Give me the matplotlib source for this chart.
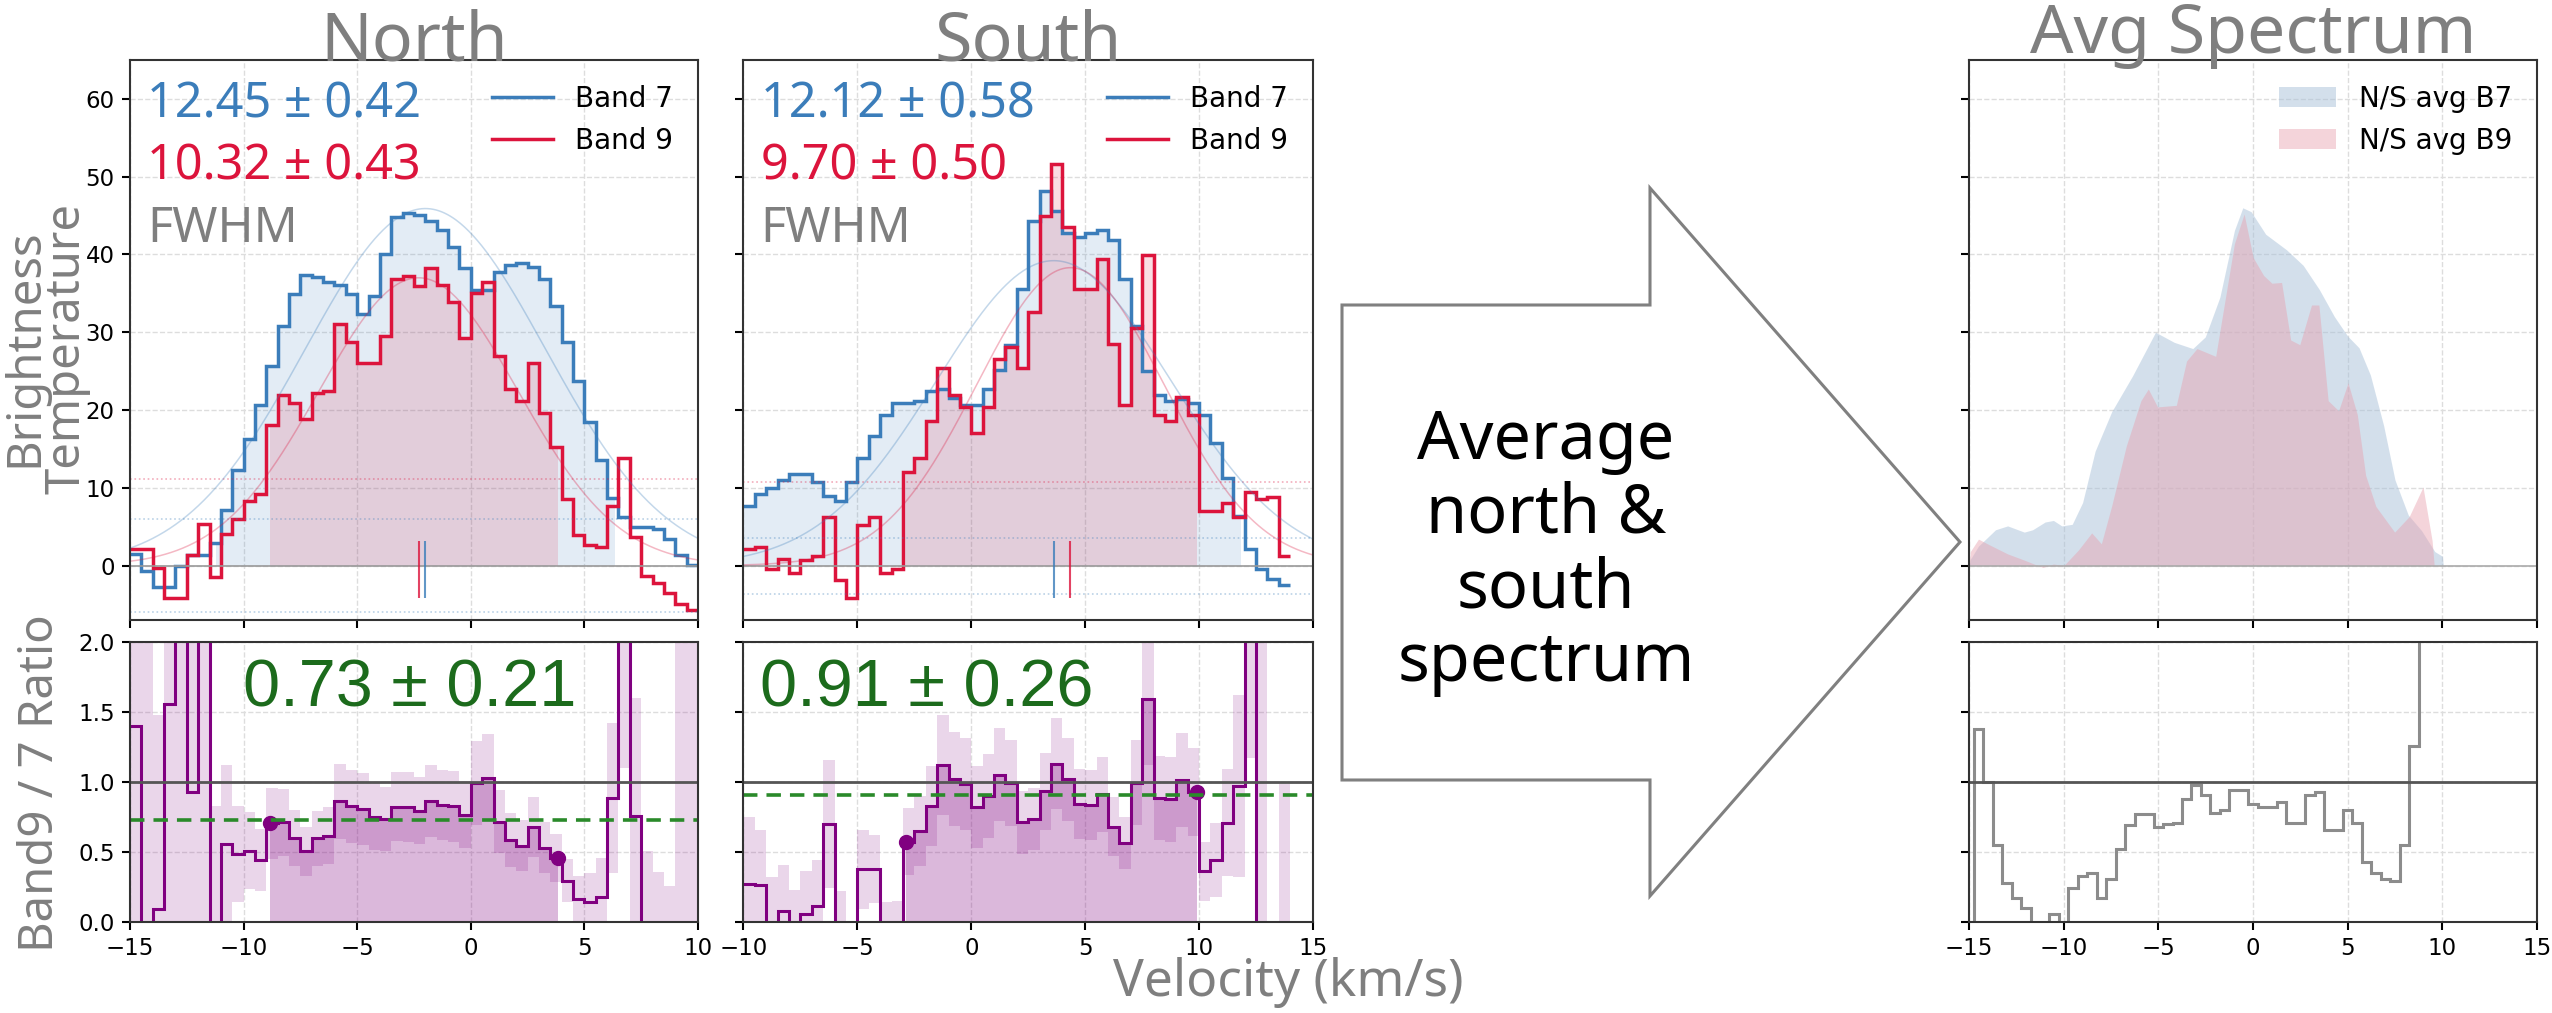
import numpy as np
import matplotlib
matplotlib.use('Agg')
import matplotlib.pyplot as plt
from matplotlib.lines import Line2D
from matplotlib.patches import Patch, Polygon

# brightness temperature spectra (K) on 0.5 km/s channels
chan = 0.5
north_v0 = -15.0
south_v0 = -10.0

north_b7 = [1.5, -0.7, -2.7, -2.7, -0.1, 1.4, 1.4, 2.9, 7.2, 12.3,
            16.3, 20.7, 25.7, 30.8, 34.9, 37.4, 37.1, 36.4, 36.1, 34.9,
            32.3, 34.6, 40.0, 44.8, 45.3, 45.1, 44.3, 43.2, 41.0, 38.2,
            35.4, 35.4, 37.7, 38.7, 38.9, 38.4, 36.9, 33.4, 28.8, 23.7,
            18.4, 13.6, 8.7, 6.2, 4.9, 4.9, 4.7, 3.4, 1.4, 0.1]
north_b9 = [2.1, 2.1, -0.25, -4.2, -4.2, 1.3, 5.4, -1.5, 4.0, 6.0,
            8.3, 9.2, 18.1, 21.9, 20.9, 18.9, 22.2, 22.4, 31.1, 28.8,
            26.0, 26.0, 29.5, 36.9, 37.2, 35.9, 38.2, 36.1, 33.9, 29.3,
            35.1, 36.5, 27.0, 22.7, 21.2, 26.0, 19.6, 15.3, 8.5, 3.9,
            2.6, 2.4, 7.7, 13.8, 3.7, -1.3, -2.2, -3.5, -5.0, -5.7]

south_b7 = [7.7, 9.2, 10.0, 11.0, 11.8, 11.8, 10.8, 9.0, 8.3, 10.8,
            13.8, 16.6, 19.4, 20.9, 20.9, 21.2, 22.4, 22.7, 21.5, 20.7,
            20.7, 22.7, 25.2, 28.3, 35.6, 44.3, 48.1, 45.6, 42.7, 42.2,
            42.7, 43.2, 41.9, 36.9, 30.8, 25.0, 21.9, 21.2, 21.4, 20.9,
            19.4, 15.8, 11.3, 6.4, 2.1, -0.4, -1.7, -2.5]
south_b9 = [2.1, 2.4, -0.4, 0.9, -0.9, 0.7, 1.2, 6.3, -1.8, -4.2,
            5.2, 6.3, -0.9, -0.4, 12.0, 13.8, 18.6, 25.4, 21.9, 20.4,
            17.0, 20.4, 26.5, 28.1, 25.4, 32.6, 44.9, 51.6, 43.5, 35.6,
            35.6, 39.4, 28.5, 20.7, 30.6, 39.9, 19.4, 18.6, 21.7, 19.4,
            7.0, 7.0, 8.0, 6.2, 9.5, 8.5, 8.8, 1.2]

# gaussian fits: centre, peak, FWHM, FWHM error
north_fit7 = (-2.0, 45.9, 12.45, 0.42)
north_fit9 = (-2.3, 37.0, 10.32, 0.43)
south_fit7 = (3.62, 39.2, 12.12, 0.58)
south_fit9 = (4.35, 38.3, 9.70, 0.50)

# integration windows
north_win7 = (-11.2, 6.35)
north_win9 = (-8.84, 3.83)
south_win7 = (-10.0, 11.86)
south_win9 = (-2.86, 9.9)

# 1-sigma channel noise (dotted lines sit at 3 sigma) and flux calibration error
north_rms7, north_rms9 = 2.0, 3.73
south_rms7, south_rms9 = 1.2, 3.6
calib = 0.28

# mean band9/band7 ratio in the window
north_ratio = (0.73, 0.21)
south_ratio = (0.91, 0.26)

# north/south averaged spectra
avg7_v = [-15.0, -14.93, -14.5, -13.6, -12.96, -12.08, -11.64, -10.98, -10.54,
          -10.1, -9.55, -9.0, -8.34, -7.46, -6.36, -5.15, -4.16, -3.18, -2.52,
          -1.75, -0.98, -0.54, -0.1, 0.67, 1.77, 2.65, 3.5, 4.3, 5.0, 5.6, 6.2,
          6.9, 7.5, 8.2, 8.9, 9.6, 10.0, 10.05]
avg7_t = [0.0, 0.8, 2.5, 4.6, 5.1, 4.3, 4.6, 5.6, 5.8,
          5.1, 5.3, 8.1, 14.7, 19.8, 24.4, 30.0, 28.7, 27.9, 29.4,
          34.5, 43.1, 46.0, 45.5, 42.6, 40.6, 38.6, 35.5, 32.0, 29.5, 28.0, 24.5,
          18.0, 11.0, 6.5, 4.5, 1.8, 1.2, 0.0]
avg9_v = [-15.0, -14.93, -14.5, -13.95, -12.96, -12.08, -11.1, -10.54, -9.99,
          -9.22, -8.52, -8.01, -7.46, -6.69, -5.92, -5.53, -5.04, -4.05, -3.51,
          -2.96, -1.97, -0.98, -0.47, 0.01, 0.56, 1.0, 1.51, 1.99, 2.47, 3.09,
          3.48, 3.97, 4.52, 5.02, 5.51, 5.95, 6.49, 7.48, 8.25, 8.98, 9.46, 9.57]
avg9_t = [0.0, 1.8, 3.4, 2.7, 1.5, 0.7, -0.25, 0.2, 0.0,
          2.0, 4.2, 2.8, 7.7, 15.4, 21.2, 22.7, 20.4, 20.6, 26.3,
          27.9, 26.9, 41.4, 45.2, 39.6, 37.3, 36.3, 36.4, 29.0, 28.4, 33.5,
          33.5, 21.2, 19.9, 23.5, 19.4, 11.6, 7.6, 4.3, 6.3, 10.1, 3.2, 0.0]

avg_ratio_v0 = -15.25
avg_ratio = [-1.0, 1.38, 1.0, 0.55, 0.28, 0.17, 0.10, -0.2, -0.2, 0.06, -0.1,
             0.24, 0.33, 0.35, 0.17, 0.31, 0.52, 0.69, 0.77, 0.77, 0.68,
             0.70, 0.71, 0.88, 0.98, 0.91, 0.78, 0.80, 0.94, 0.94, 0.84,
             0.82, 0.82, 0.86, 0.71, 0.71, 0.91, 0.93, 0.66, 0.66, 0.80,
             0.71, 0.43, 0.35, 0.31, 0.29, 0.55, 1.26, 5.0]

gray = '#7f7f7f'
c7 = '#3b7dba'
c9 = '#dc143c'
purple = '#800080'
W, H = 2552, 1013

plt.rcParams['axes.linewidth'] = 1.5
plt.rcParams['axes.edgecolor'] = '#333333'

fig = plt.figure(figsize=(W / 100, H / 100), dpi=100)


def rect(x0, x1, y0, y1):
    return [x0 / W, 1 - y1 / H, (x1 - x0) / W, (y1 - y0) / H]


def gauss(v, mu, peak, fwhm, err):
    return peak * np.exp(-4 * np.log(2) * (v - mu) ** 2 / fwhm ** 2)


def fill_steps(ax, edges, lower, upper, lo, hi, **kw):
    e = np.clip(edges, lo, hi)
    xs = np.repeat(e, 2)[1:-1]
    upper = np.asarray(upper, float)
    lower = np.broadcast_to(lower, upper.shape)
    ax.fill_between(xs, np.repeat(lower, 2), np.repeat(upper, 2), lw=0, **kw)


def style(ax, xlim, ylim, yticks, ylabels=True, xlabels=True):
    ax.set_xlim(*xlim)
    ax.set_ylim(*ylim)
    ax.set_xticks(np.arange(xlim[0], xlim[1] + 1, 5))
    ax.set_yticks(yticks)
    ax.grid(True, ls='--', color='#dddddd', lw=1.0)
    ax.set_axisbelow(True)
    ax.tick_params(direction='out', length=6, width=1.5, labelsize=16.5, pad=5,
                   labelleft=ylabels, labelbottom=xlabels)


def spectrum(ax, v0, b7, b9, fit7, fit9, win7, win9, rms7, rms9, xlim, show_y):
    b7 = np.asarray(b7)
    b9 = np.asarray(b9)
    edges = v0 + chan * np.arange(len(b7) + 1)
    style(ax, xlim, (-7, 65), np.arange(0, 61, 10), ylabels=show_y, xlabels=False)
    ax.axhline(0, color='#999999', lw=1.2)
    for lvl, c in ((3 * rms7, c7), (3 * rms9, c9)):
        ax.axhline(lvl, color=c, ls=':', lw=1.2, alpha=0.35)
        ax.axhline(-lvl, color=c, ls=':', lw=1.2, alpha=0.35)
    fill_steps(ax, edges, 0, b7, *win7, color=c7, alpha=0.14)
    fill_steps(ax, edges, 0, b9, *win9, color=c9, alpha=0.14)
    vv = np.linspace(xlim[0], xlim[1], 400)
    ax.plot(vv, gauss(vv, *fit7), color=c7, lw=1.1, alpha=0.3)
    ax.plot(vv, gauss(vv, *fit9), color=c9, lw=1.1, alpha=0.3)
    ax.stairs(b7, edges, baseline=None, color=c7, lw=2.5)
    ax.stairs(b9, edges, baseline=None, color=c9, lw=2.5)
    ax.vlines(fit7[0], -4.2, 3.1, color=c7, lw=1.5, alpha=0.8)
    ax.vlines(fit9[0], -4.2, 3.1, color=c9, lw=1.5, alpha=0.8)

    handles = [Line2D([], [], color=c7, lw=2.5), Line2D([], [], color=c9, lw=2.5)]
    ax.legend(handles, ['Band 7', 'Band 9'], loc='upper right', frameon=False,
              fontsize=20, handlelength=2.2)
    ax.text(0.03, 0.898, f'{fit7[2]:.2f} ± {fit7[3]:.2f}', color=c7, fontsize=35,
            family='Noto Sans', transform=ax.transAxes, va='baseline')
    ax.text(0.03, 0.786, f'{fit9[2]:.2f} ± {fit9[3]:.2f}', color=c9, fontsize=35,
            family='Noto Sans', transform=ax.transAxes, va='baseline')
    ax.text(0.03, 0.675, 'FWHM', color=gray, fontsize=35,
            family='Noto Sans', transform=ax.transAxes, va='baseline')


def ratio(ax, v0, b7, b9, win9, rms7, rms9, mean, xlim, show_y, tx):
    b7 = np.asarray(b7, float)
    b9 = np.asarray(b9, float)
    edges = v0 + chan * np.arange(len(b7) + 1)
    style(ax, xlim, (0, 2), [0, 0.5, 1.0, 1.5, 2.0], ylabels=show_y)
    if show_y:
        ax.set_yticklabels(['0.0', '0.5', '1.0', '1.5', '2.0'])
    r = b9 / b7
    # noise of both bands plus calibration, propagated to the ratio
    dr = np.sqrt((rms9 / b7) ** 2 + (r * rms7 / b7) ** 2 + (calib * r) ** 2)
    fill_steps(ax, edges, r - dr, r + dr, edges[0], edges[-1], color=purple, alpha=0.16)
    fill_steps(ax, edges, 0, r, *win9, color=purple, alpha=0.28)
    ax.stairs(r, edges, baseline=None, color=purple, lw=2.2)
    idx = np.searchsorted(edges, win9) - 1
    ax.plot(win9, r[idx], 'o', color=purple, ms=10)
    ax.axhline(1.0, color='#555555', lw=2)
    ax.axhline(mean[0], color='#2a8a2a', ls=(0, (4, 2.5)), lw=2.6)
    ax.text(tx, 0.768, f'{mean[0]:.2f} ± {mean[1]:.2f}', color='#1c6b1c', fontsize=48,
            family='Liberation Sans', transform=ax.transAxes, va='baseline')


# north
ax_n = fig.add_axes(rect(130, 698, 60, 620))
spectrum(ax_n, north_v0, north_b7, north_b9, north_fit7, north_fit9,
         north_win7, north_win9, north_rms7, north_rms9, (-15, 10), True)
ax_nr = fig.add_axes(rect(130, 698, 642, 922))
ratio(ax_nr, north_v0, north_b7, north_b9, north_win9, north_rms7, north_rms9,
      north_ratio, (-15, 10), True, 0.199)

# south
ax_s = fig.add_axes(rect(743.5, 1313, 60, 620))
spectrum(ax_s, south_v0, south_b7, south_b9, south_fit7, south_fit9,
         south_win7, south_win9, south_rms7, south_rms9, (-10, 15), False)
ax_sr = fig.add_axes(rect(743.5, 1313, 642, 922))
ratio(ax_sr, south_v0, south_b7, south_b9, south_win9, south_rms7, south_rms9,
      south_ratio, (-10, 15), False, 0.029)

# averaged spectrum
ax_a = fig.add_axes(rect(1969, 2537, 60, 620))
style(ax_a, (-15, 15), (-7, 65), np.arange(0, 61, 10), ylabels=False, xlabels=False)
ax_a.axhline(0, color='#aaaaaa', lw=1.2)
ax_a.fill_between(avg7_v, 0, avg7_t, color='#a9c1d9', alpha=0.5, lw=0)
ax_a.fill_between(avg9_v, 0, avg9_t, color='#e8a0ae', alpha=0.45, lw=0)
ax_a.legend([Patch(color='#a9c1d9', alpha=0.5, lw=0), Patch(color='#e8a0ae', alpha=0.45, lw=0)],
            ['N/S avg B7', 'N/S avg B9'], loc='upper right', frameon=False,
            fontsize=20, handlelength=2.05, handleheight=0.75)

ax_ar = fig.add_axes(rect(1969, 2537, 642, 922))
style(ax_ar, (-15, 15), (0, 2), [0, 0.5, 1.0, 1.5, 2.0], ylabels=False)
ax_ar.axhline(1.0, color='#555555', lw=2)
ax_ar.stairs(avg_ratio, avg_ratio_v0 + chan * np.arange(len(avg_ratio) + 1),
             baseline=None, color='#8c8c8c', lw=2.2)

# panel titles
for ax, name, dy in ((ax_n, 'North', 0.0), (ax_s, 'South', 0.0), (ax_a, 'Avg Spectrum', 0.012)):
    ax.text(0.5, 1.0 + dy, name, transform=ax.transAxes, ha='center', va='baseline',
            fontsize=49, color=gray, family='Noto Sans')

fig.text(46 / W, 1 - 348 / H, 'Brightness\nTemperature', rotation=90, ha='center', va='center',
         fontsize=34, color=gray, family='Noto Sans', linespacing=0.85)
fig.text(41 / W, 1 - 783 / H, 'Band9 / 7 Ratio', rotation=90, ha='center', va='center',
         fontsize=34, color=gray, family='Noto Sans')
fig.text(1288 / W, 1 - 996 / H, 'Velocity (km/s)', ha='center', va='baseline',
         fontsize=37, color=gray, family='Noto Sans')

# arrow between the panels
arrow_px = [(1342, 305), (1650, 305), (1650, 188), (1960, 542),
            (1650, 896), (1650, 780), (1342, 780)]
fig.add_artist(Polygon([(x / W, 1 - y / H) for x, y in arrow_px], closed=True,
                       transform=fig.transFigure, facecolor='white',
                       edgecolor='#808080', lw=2.2))
fig.text(1546 / W, 1 - 552 / H, 'Average\nnorth &\nsouth\nspectrum', ha='center', va='center',
         fontsize=48, color='black', family='Noto Sans', linespacing=1.12)

fig.savefig('out.png', dpi=100)
